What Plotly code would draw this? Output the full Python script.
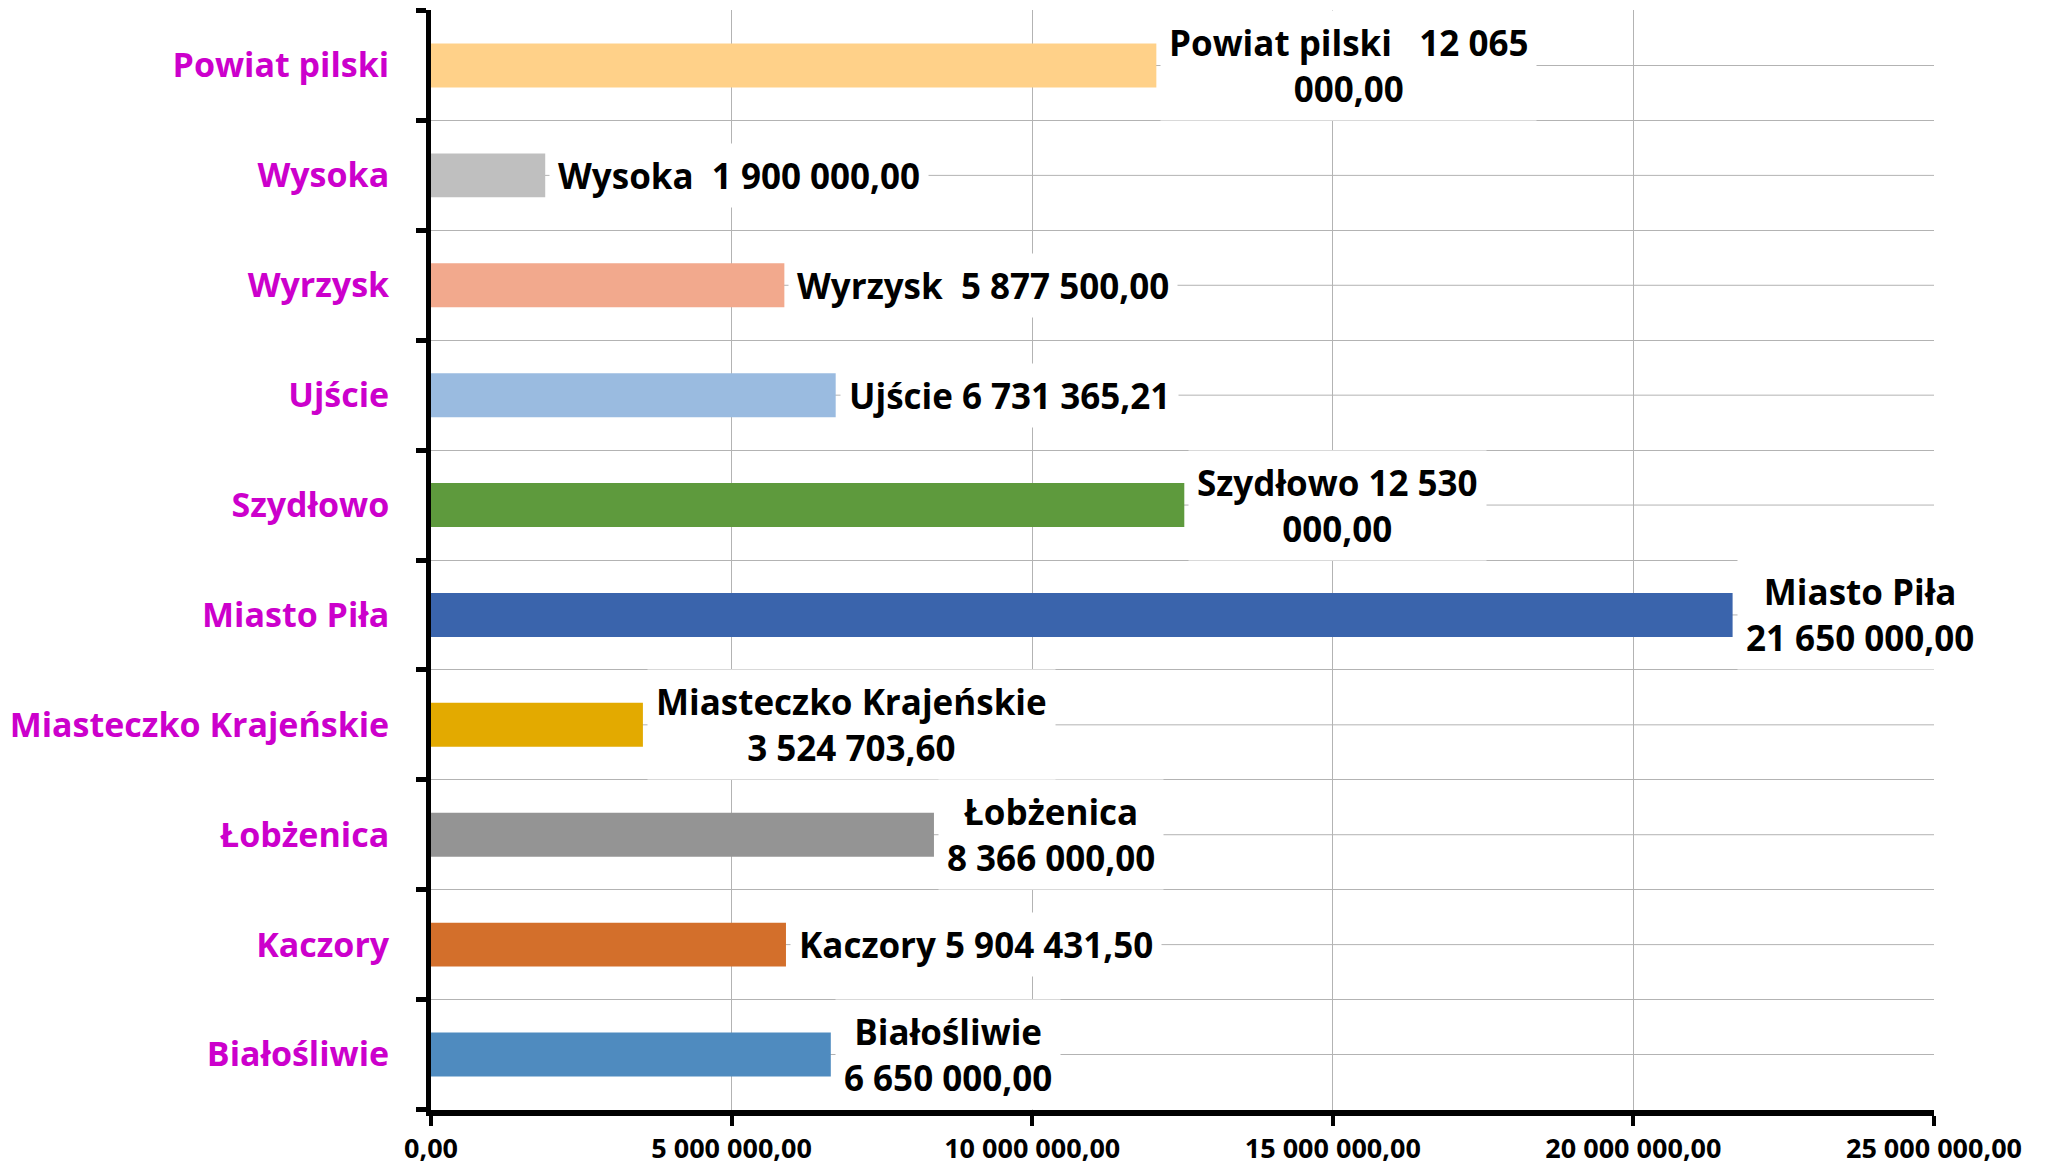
import plotly.graph_objects as go

# data, bottom to top
gminy = ["Białośliwie", "Kaczory", "Łobżenica", "Miasteczko Krajeńskie", "Miasto Piła",
         "Szydłowo", "Ujście", "Wyrzysk", "Wysoka", "Powiat pilski"]
kwoty = [6650000.00, 5904431.50, 8366000.00, 3524703.60, 21650000.00,
         12530000.00, 6731365.21, 5877500.00, 1900000.00, 12065000.00]
kolory = ["#4F8BBF", "#D36F2B", "#949494", "#E3AA00", "#3A64AC",
          "#5E9A3D", "#9ABBE0", "#F2A98D", "#BFBFBF", "#FFD189"]
# how name and value are joined in each data label
separatory = ["<br>", " ", "<br>", "<br>", "<br>", " ", " ", "  ", "  ", "   "]
zawijaj = [False, False, False, False, False, True, False, False, False, True]


def fmt(v):
    return f"{v:,.2f}".replace(",", " ").replace(".", ",")


FONT = "Open Sans"

fig = go.Figure()

fig.add_trace(go.Bar(
    x=kwoty,
    y=gminy,
    orientation="h",
    width=0.4,
    marker=dict(color=kolory, line=dict(width=0)),
    showlegend=False,
    hoverinfo="skip",
))

# gridlines through the middle of each category
for g in gminy:
    fig.add_shape(type="line", xref="paper", x0=0, x1=1, y0=g, y1=g,
                  line=dict(color="#B3B3B3", width=1), layer="below")

for g, v, sep, wrap in zip(gminy, kwoty, separatory, zawijaj):
    num = fmt(v)
    if wrap:
        i = num.rfind(" ")
        num = num[:i] + "<br>" + num[i + 1:]
    fig.add_annotation(
        x=v, y=g, text=g + sep + num,
        xanchor="left", yanchor="middle", xshift=4,
        showarrow=False, align="center",
        bgcolor="white", borderpad=8,
        font=dict(family=FONT, size=35, color="black", weight="bold"),
    )

# page body adds 8px on top/left, margins compensate
fig.update_layout(
    width=2048,
    height=1168,
    margin=dict(l=418, r=122, t=2, b=66),
    paper_bgcolor="white",
    plot_bgcolor="white",
    separators=", ",
    font=dict(family=FONT),
)

fig.update_xaxes(
    range=[0, 25000000],
    dtick=5000000,
    tickformat=",.2f",
    showgrid=True, gridcolor="#B3B3B3", gridwidth=1,
    zeroline=False,
    showline=True, linecolor="black", linewidth=6,
    ticks="outside", ticklen=10, tickwidth=4, tickcolor="black",
    tickfont=dict(family=FONT, size=27, color="black", weight="bold"),
)

fig.update_yaxes(
    type="category",
    tickson="boundaries",
    showgrid=True, gridcolor="#B3B3B3", gridwidth=1,
    showline=True, linecolor="black", linewidth=5,
    ticks="outside", ticklen=10, tickwidth=5, tickcolor="black",
    ticklabelstandoff=30,
    tickfont=dict(family=FONT, size=34, color="#CC00CC", weight="bold"),
)

fig.write_html("out.html")
